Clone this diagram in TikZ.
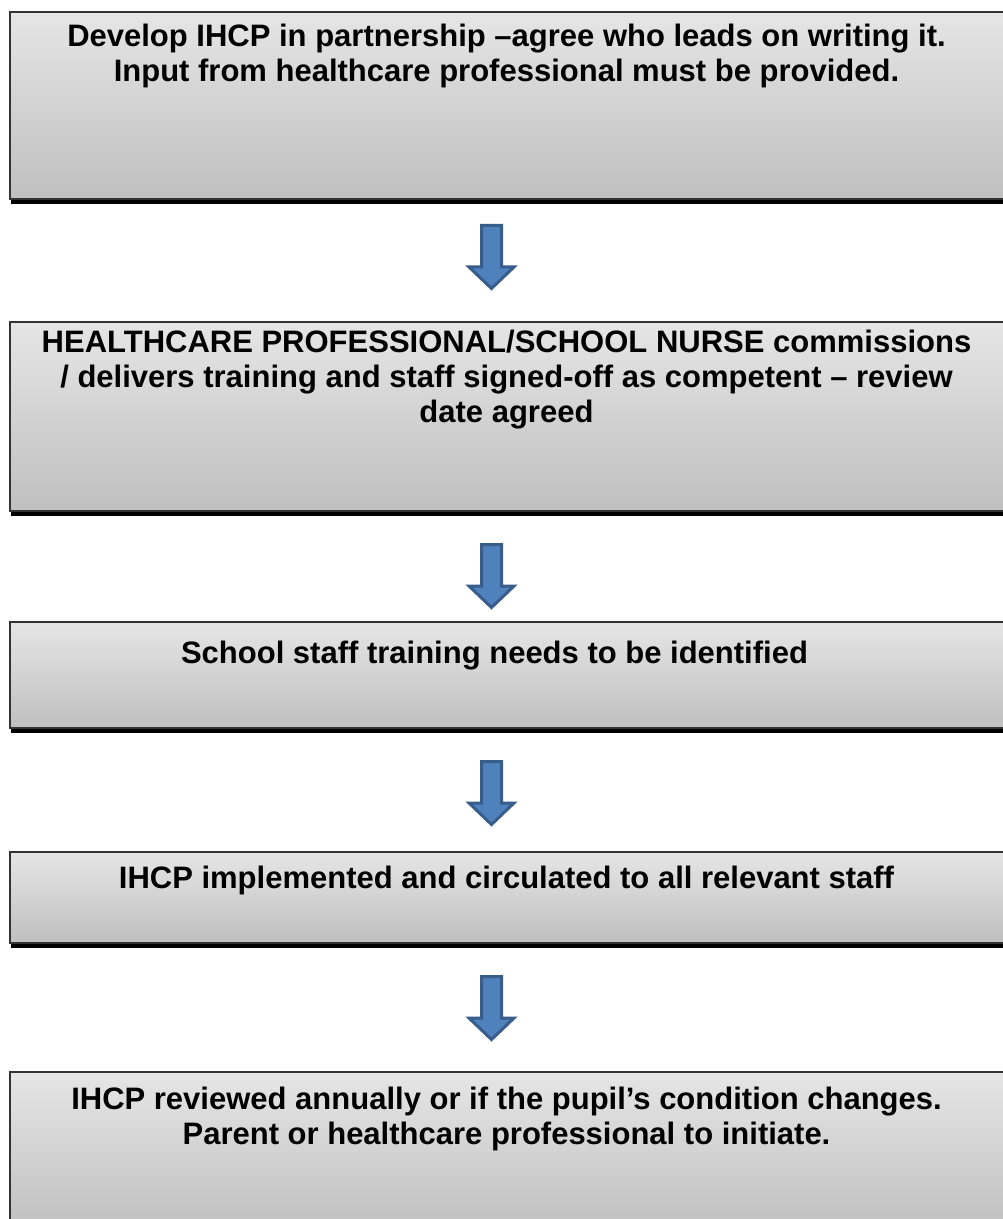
\documentclass[tikz,border=0pt]{standalone}
\usepackage{fontspec}
\setmainfont{Liberation Sans}
\usetikzlibrary{positioning,shadows}
\definecolor{arrowblue}{HTML}{4F81BD}
\definecolor{arrowedge}{HTML}{385D8A}

\begin{document}
\begin{tikzpicture}[x=0.5pt,y=-0.5pt,
    stepbox/.style={rectangle,draw=black!80,line width=1pt,
        top color=black!10,bottom color=black!25,
        drop shadow={shadow xshift=0.5pt,shadow yshift=-2.5pt,fill=black,opacity=1},
        minimum width=500.5pt,anchor=north west,inner sep=0pt},
    steptext/.style={align=center,inner sep=0pt,
        font=\bfseries\fontsize{15.5}{17.5}\selectfont},
    downarrow/.style={fill=arrowblue,draw=arrowedge,line width=1.5pt,line join=miter}]
    \useasboundingbox[fill=white] (0,0) rectangle (1002,1219);

    % the five steps
    \node [stepbox,minimum height=93.5pt] (b1) at (9,11) {};
    \node [stepbox,minimum height=94.5pt] (b2) at (9,321) {};
    \node [stepbox,minimum height=53pt] (b3) at (9,621) {};
    \node [stepbox,minimum height=45.5pt] (b4) at (9,851) {};
    \node [stepbox,minimum height=80pt] (b5) at (9,1071) {};

    \node [steptext,below=6.5pt of b1.north,xshift=-2pt] (t1)
        {Develop IHCP in partnership –agree who leads on writing it.\\
         Input from healthcare professional must be provided.};
    \node [steptext,below=4.5pt of b2.north,xshift=-2pt] (t2)
        {HEALTHCARE PROFESSIONAL/SCHOOL NURSE commissions\\
         / delivers training and staff signed-off as competent – review\\
         date agreed};
    \node [steptext,below=10pt of b3.north,xshift=-8pt] (t3)
        {School staff training needs to be identified};
    \node [steptext,below=7.5pt of b4.north,xshift=-2pt] (t4)
        {IHCP implemented and circulated to all relevant staff};
    \node [steptext,below=8pt of b5.north,xshift=-2pt] (t5)
        {IHCP reviewed annually or if the pupil’s condition changes.\\
         Parent or healthcare professional to initiate.};

    % block arrows between the steps
    \foreach \ytop [count=\i] in {224,543,760,975} {
        \coordinate (a\i) at (491.5,\ytop+1.5);
        \draw [downarrow] (a\i) ++(-10,0) -- ++(20,0) -- ++(0,41.5) -- ++(12.5,0)
            -- ++(-22.5,21.5) -- ++(-22.5,-21.5) -- ++(12.5,0) -- cycle;
    }
\end{tikzpicture}
\end{document}
